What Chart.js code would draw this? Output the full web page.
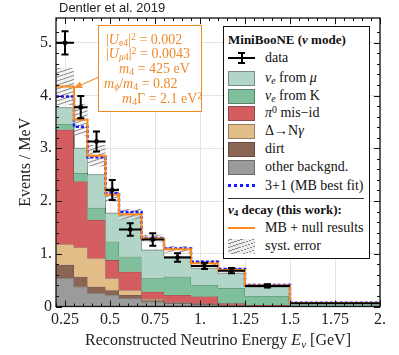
<!DOCTYPE html>
<html>
<head>
<meta charset="utf-8">
<script src="https://cdn.jsdelivr.net/npm/chart.js@4.4.0/dist/chart.umd.min.js"></script>
<style>
  body { margin: 0; background: #fff; }
  #wrap { position: relative; width: 399px; height: 355px; font-family: 'Liberation Serif', 'Times New Roman', serif; }
  #c { position: absolute; left: 0; top: 0; }
  sub, sup { font-size: 70%; line-height: 0; }
  sub { vertical-align: -0.25em; }
  sup { vertical-align: 0.45em; }
  #title { position: absolute; left: 59px; top: 0px; font: 13px 'Liberation Sans', Arial, sans-serif; line-height: 15px; color: #222; }
  #xtitle { position: absolute; left: 0; width: 436px; top: 331px; text-align: center; font-size: 16px; line-height: 18px; color: #222; white-space: nowrap; }
  #inset { position: absolute; left: 98px; top: 25px; width: 104px; height: 87px; box-sizing: border-box;
           border: 1.5px solid #f28a20; background: #fff; color: #ee8a2a; font-size: 14px; }
  #inset div { position: absolute; height: 18px; line-height: 18px; white-space: nowrap; }
  #legend { position: absolute; left: 223px; top: 26px; width: 147px; height: 233px; box-sizing: border-box;
            border: 1.5px solid #111; background: #fff; color: #111; }
  .row { position: absolute; left: 0; width: 100%; height: 18px; line-height: 18px; }
  .sw { position: absolute; left: 4px; top: 1.5px; width: 27px; height: 15px; box-sizing: border-box; border: 1px solid rgba(50,50,50,0.45); }
  .lbl { position: absolute; left: 41px; top: 0; white-space: nowrap; font-size: 14px; }
  .hdr { position: absolute; left: 4px; top: 0; white-space: nowrap; font-size: 13px; font-weight: bold; }
  .hl { position: absolute; left: 4px; width: 27px; height: 2px; top: 8px; background: #000; }
  .vl { position: absolute; left: 16.5px; width: 2px; height: 12px; top: 3px; background: #000; }
  .cap { position: absolute; left: 14px; width: 7px; height: 2px; background: #000; }
  .hatch { border: none; background: #ececec repeating-linear-gradient(-18deg, #8a8a8a 0 0.8px, transparent 0.8px 3.5px); }
</style>
</head>
<body>
<div id="wrap">
  <canvas id="c" width="399" height="355"></canvas>
  <div id="title">Dentler et al. 2019</div>
  <div id="xtitle">Reconstructed Neutrino Energy <i>E</i><sub><i>ν</i></sub> [GeV]</div>
  <div id="inset">
    <div style="left:7px;top:5px">|<i>U</i><sub>e4</sub>|<sup>2</sup> = 0.002</div>
    <div style="left:7px;top:19px">|<i>U</i><sub><i>μ</i>4</sub>|<sup>2</sup> = 0.0043</div>
    <div style="left:20px;top:34px"><i>m</i><sub>4</sub> = 425 eV</div>
    <div style="left:5px;top:49px"><i>m</i><sub><i>ϕ</i></sub>/<i>m</i><sub>4</sub> = 0.82</div>
    <div style="left:23px;top:64px"><i>m</i><sub>4</sub>Γ = 2.1 eV<sup>2</sup></div>
  </div>
  <div id="legend">
    <div class="row" style="top:4px"><span class="hdr">MiniBooNE (<i>ν</i> mode)</span></div>
    <div class="row" style="top:22px"><span class="hl"></span><span class="vl"></span><span class="cap" style="top:3px"></span><span class="cap" style="top:13px"></span><span class="lbl">data</span></div>
    <div class="row" style="top:42px"><span class="sw" style="background:#b1d6c8"></span><span class="lbl"><i>ν<sub>e</sub></i> from <i>μ</i></span></div>
    <div class="row" style="top:60px"><span class="sw" style="background:#7fbf9c"></span><span class="lbl"><i>ν<sub>e</sub></i> from K</span></div>
    <div class="row" style="top:77px"><span class="sw" style="background:#d45d5f"></span><span class="lbl"><i>π</i><sup>0</sup> mis−id</span></div>
    <div class="row" style="top:95px"><span class="sw" style="background:#e2bd88"></span><span class="lbl">Δ→N<i>γ</i></span></div>
    <div class="row" style="top:113px"><span class="sw" style="background:#8b6553"></span><span class="lbl">dirt</span></div>
    <div class="row" style="top:131px"><span class="sw" style="background:#9b9b9b"></span><span class="lbl">other backgnd.</span></div>
    <div class="row" style="top:150px"><span class="hl" style="background:none;border-top:3px dotted #1a1aff;height:0;top:7px"></span><span class="lbl">3+1 (MB best fit)</span></div>
    <div style="position:absolute;left:4px;width:136px;top:171px;height:0;border-top:1px solid #333"></div>
    <div class="row" style="top:174px"><span class="hdr"><i>ν</i><sub>4</sub> decay (this work):</span></div>
    <div class="row" style="top:192px"><span class="hl" style="background:#ff8a1c"></span><span class="lbl">MB + null results</span></div>
    <div class="row" style="top:210px"><span class="sw hatch"></span><span class="lbl">syst. error</span></div>
  </div>
</div>
<script>
// bin edges (GeV) of the MiniBooNE histogram
const binEdges = [0.2, 0.3, 0.375, 0.475, 0.55, 0.675, 0.8, 0.95, 1.1, 1.25, 1.5, 3.0];

// background components in events / MeV, bottom of the stack first
const otherBkg = [0.535, 0.375, 0.25, 0.22, 0.155, 0.09, 0.06, 0.04, 0.02, 0.01, 0.003];
const dirtBkg  = [0.255, 0.19, 0.125, 0.09, 0.065, 0.03, 0.01, 0.01, 0.005, 0.003, 0.001];
const deltaBkg = [0.39, 0.555, 0.54, 0.225, 0.09, 0.02, 0.01, 0.005, 0.005, 0.002, 0.001];
const pi0Bkg   = [2.17, 1.25, 0.725, 0.345, 0.35, 0.14, 0.14, 0.135, 0.03, 0.015, 0.005];
const nueKBkg  = [0.11, 0.16, 0.23, 0.35, 0.285, 0.255, 0.345, 0.22, 0.29, 0.17, 0.025];
const nueMuBkg = [0.31, 0.47, 0.63, 0.54, 0.775, 0.535, 0.38, 0.315, 0.28, 0.17, 0.03];

// model curves
const bestFit31 = [3.98, 3.41, 2.83, 2.15, 1.79, 1.30, 1.10, 0.85, 0.71, 0.41, 0.07];
const mbNull    = [4.17, 3.54, 2.86, 2.12, 1.75, 1.29, 1.085, 0.82, 0.69, 0.40, 0.065];
const systErr   = [0.35, 0.3, 0.2, 0.13, 0.1, 0.07, 0.06, 0.05, 0.04, 0.03, 0.01];

// data points
const dataX   = [0.25, 0.3375, 0.425, 0.5125, 0.6125, 0.7375, 0.875, 1.025, 1.175, 1.375, 2.25];
const dataY   = [5.0, 3.78, 3.13, 2.21, 1.46, 1.27, 0.93, 0.77, 0.68, 0.39, 0.06];
const dataErr = [0.22, 0.21, 0.19, 0.19, 0.12, 0.12, 0.08, 0.06, 0.05, 0.03, 0.01];

// ticks
const xTickValues = [0.25, 0.5, 0.75, 1, 1.25, 1.5, 1.75, 2];
const xTickLabels = ['0.25', '0.5', '0.75', '1.', '1.25', '1.5', '1.75', '2.'];
const yTickValues = [0, 1, 2, 3, 4, 5];
const yTickLabels = ['0', '1.', '2.', '3.', '4.', '5.'];

// histogram -> stepped line points
function steps(vals) {
  const pts = vals.map((v, i) => ({x: binEdges[i], y: v}));
  pts.push({x: binEdges[binEdges.length - 1], y: vals[vals.length - 1]});
  return pts;
}

// cumulative tops of the stack
const stackParts = [otherBkg, dirtBkg, deltaBkg, pi0Bkg, nueKBkg, nueMuBkg];
let run = otherBkg.map(() => 0);
const stackTops = stackParts.map(p => (run = run.map((r, i) => r + p[i])));

function hatchPattern() {
  const c = document.createElement('canvas');
  c.width = 12; c.height = 4;
  const g = c.getContext('2d');
  g.fillStyle = 'rgba(235,235,235,0.5)';
  g.fillRect(0, 0, 12, 4);
  g.strokeStyle = '#7d7d7d';
  g.lineWidth = 0.9;
  for (const k of [-4, 0, 4]) {
    g.beginPath(); g.moveTo(0, 4 + k); g.lineTo(12, k); g.stroke();
  }
  return g.createPattern(c, 'repeat');
}

const edge = 'rgba(50,50,50,0.45)';
const stackStyle = (data, color, fill) => ({
  data: steps(data), backgroundColor: color, borderColor: edge, borderWidth: 1,
  stepped: true, fill: fill, pointRadius: 0, clip: 0
});

const datasets = [
  {data: dataX.map((x, i) => ({x: x, y: dataY[i]})), showLine: false, pointRadius: 2,
   pointBackgroundColor: '#000', pointBorderColor: '#000', clip: 0},
  {data: steps(mbNull), borderColor: '#ff8a1c', borderWidth: 2, stepped: true, fill: false, pointRadius: 0, clip: 0},
  {data: steps(bestFit31), borderColor: '#1a1aff', borderWidth: 2.5, borderDash: [3, 2], stepped: true,
   fill: false, pointRadius: 0, clip: 0},
  {data: steps(mbNull.map((v, i) => v + systErr[i])), borderWidth: 0, borderColor: 'transparent',
   backgroundColor: hatchPattern(), stepped: true, fill: '+1', pointRadius: 0, clip: 0},
  {data: steps(mbNull.map((v, i) => v - systErr[i])), borderWidth: 0, borderColor: 'transparent',
   stepped: true, fill: false, pointRadius: 0, clip: 0},
  stackStyle(stackTops[5], '#b1d6c8', '+1'),
  stackStyle(stackTops[4], '#7fbf9c', '+1'),
  stackStyle(stackTops[3], '#d45d5f', '+1'),
  stackStyle(stackTops[2], '#e2bd88', '+1'),
  stackStyle(stackTops[1], '#8b6553', '+1'),
  stackStyle(stackTops[0], '#9b9b9b', 'origin')
];

// error bars, frame with inward ticks, and the inset arrow
const decorPlugin = {
  id: 'decor',
  afterDatasetsDraw(chart) {
    const {ctx, chartArea: a, scales: {x, y}} = chart;
    ctx.save();
    ctx.beginPath();
    ctx.rect(a.left, a.top, a.right - a.left, a.bottom - a.top);
    ctx.clip();
    ctx.strokeStyle = '#000';
    ctx.lineWidth = 2;
    dataY.forEach((v, i) => {
      const px = x.getPixelForValue(dataX[i]);
      const py = y.getPixelForValue(v);
      const y0 = y.getPixelForValue(v - dataErr[i]);
      const y1 = y.getPixelForValue(v + dataErr[i]);
      ctx.beginPath();
      ctx.moveTo(x.getPixelForValue(binEdges[i]), py);
      ctx.lineTo(x.getPixelForValue(binEdges[i + 1]), py);
      ctx.moveTo(px, y0); ctx.lineTo(px, y1);
      ctx.moveTo(px - 3.5, y0); ctx.lineTo(px + 3.5, y0);
      ctx.moveTo(px - 3.5, y1); ctx.lineTo(px + 3.5, y1);
      ctx.stroke();
    });
    ctx.restore();

    ctx.save();
    ctx.strokeStyle = '#111';
    ctx.lineWidth = 1.3;
    ctx.strokeRect(a.left, a.top, a.right - a.left, a.bottom - a.top);
    ctx.lineWidth = 1;
    ctx.beginPath();
    for (let v = 0.2; v <= 2.0001; v += 0.05) {
      const px = Math.round(x.getPixelForValue(v)) + 0.5;
      const major = xTickValues.some(t => Math.abs(t - v) < 1e-6);
      const len = major ? 6 : 3;
      ctx.moveTo(px, a.bottom); ctx.lineTo(px, a.bottom - len);
      ctx.moveTo(px, a.top); ctx.lineTo(px, a.top + len);
    }
    for (let v = 0; v <= 5.4; v += 0.2) {
      const py = Math.round(y.getPixelForValue(v)) + 0.5;
      const major = Math.abs(v - Math.round(v)) < 1e-6;
      const len = major ? 6 : 3;
      ctx.moveTo(a.left, py); ctx.lineTo(a.left + len, py);
      ctx.moveTo(a.right, py); ctx.lineTo(a.right - len, py);
    }
    ctx.stroke();

    // arrow from the inset box to the first bin
    const sx = 99, sy = 77, tx = 74, ty = 88;
    const ang = Math.atan2(ty - sy, tx - sx);
    ctx.strokeStyle = '#f39237';
    ctx.fillStyle = '#f39237';
    ctx.lineWidth = 1.3;
    ctx.beginPath(); ctx.moveTo(sx, sy); ctx.lineTo(tx - 5 * Math.cos(ang), ty - 5 * Math.sin(ang)); ctx.stroke();
    ctx.beginPath();
    ctx.moveTo(tx, ty);
    ctx.lineTo(tx - 8 * Math.cos(ang) + 3.5 * Math.sin(ang), ty - 8 * Math.sin(ang) - 3.5 * Math.cos(ang));
    ctx.lineTo(tx - 8 * Math.cos(ang) - 3.5 * Math.sin(ang), ty - 8 * Math.sin(ang) + 3.5 * Math.cos(ang));
    ctx.closePath();
    ctx.fill();
    ctx.restore();
  }
};

const tickFont = {family: "'Liberation Serif', 'Times New Roman', serif", size: 16};

new Chart(document.getElementById('c'), {
  type: 'line',
  data: {datasets: datasets},
  options: {
    responsive: false,
    devicePixelRatio: 1,
    animation: false,
    layout: {padding: {left: 0, right: 19, top: 18, bottom: 0}},
    plugins: {legend: {display: false}, tooltip: {enabled: false}},
    scales: {
      x: {
        type: 'linear', min: 0.2, max: 2.0,
        afterBuildTicks: s => { s.ticks = xTickValues.map(v => ({value: v})); },
        afterFit: s => { s.height = 48.5; },
        grid: {color: '#e4e4e4', drawTicks: false},
        border: {display: false},
        ticks: {font: tickFont, color: '#222', padding: 4,
                callback: v => xTickLabels[xTickValues.indexOf(v)]}
      },
      y: {
        type: 'linear', min: 0, max: 5.47,
        afterBuildTicks: s => { s.ticks = yTickValues.map(v => ({value: v})); },
        afterFit: s => { s.width = 56; },
        grid: {color: '#e4e4e4', drawTicks: false},
        border: {display: false},
        ticks: {font: tickFont, color: '#222', padding: 4,
                callback: v => yTickLabels[yTickValues.indexOf(v)]},
        title: {display: true, text: 'Events / MeV', color: '#222',
                font: {family: "'Liberation Serif', 'Times New Roman', serif", size: 16},
                padding: {top: 16, bottom: 0}}
      }
    }
  },
  plugins: [decorPlugin]
});
</script>
</body>
</html>
